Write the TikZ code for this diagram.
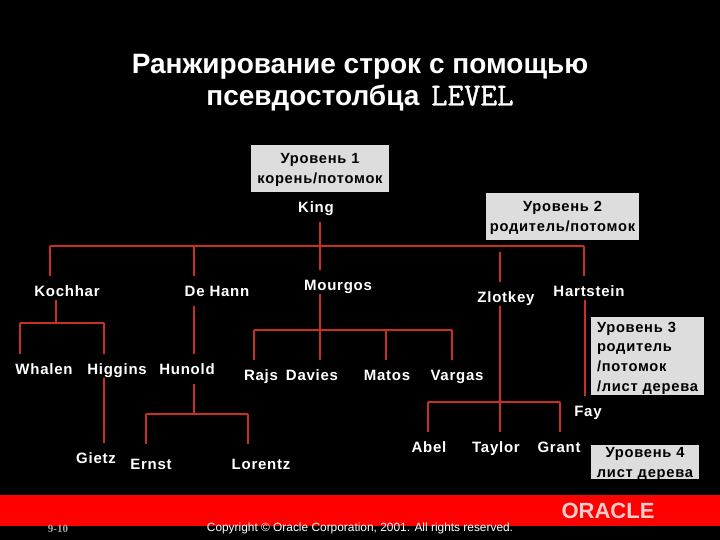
\documentclass[tikz,border=0pt]{standalone}
\usepackage{fontspec}
\setmainfont[LetterSpace=5]{Liberation Sans}
\newfontfamily\plainfont{Liberation Sans}
\newfontfamily\pagefont{Liberation Serif}
\newfontfamily\levelfont[FakeBold=1.2]{Latin Modern Mono}
\definecolor{slidered}{RGB}{255,0,0}
\definecolor{linkred}{RGB}{200,48,36}
\definecolor{notegray}{RGB}{221,221,221}
\tikzset{
  person/.style={text=white,font=\fontsize{15}{15}\bfseries\selectfont,text height=10pt,text depth=0pt,inner xsep=1pt,inner ysep=10pt},
  heading/.style={text=white,font=\plainfont\fontsize{28}{28}\bfseries\selectfont},
  note/.style={text=black,font=\fontsize{14.7}{19.7}\bfseries\selectfont,align=center,inner sep=0pt},
  link/.style={linkred,line width=2pt},
  late/.style={shorten <=-6pt},
  far/.style={shorten >=5pt}
}
\begin{document}
\begin{tikzpicture}[x=1pt,y=-1pt]
      \useasboundingbox (0,0) rectangle (720,540);
      \fill[black] (0,0) rectangle (720,540);
      \fill[slidered] (0,495) rectangle (720,526);
      \fill[notegray] (251,145) rectangle (389,192);
      \fill[notegray] (486,193) rectangle (639,240);
      \fill[notegray] (591,317) rectangle (704,395);
      \fill[notegray] (591,445) rectangle (699,479);
      \draw
        (360,67) node[heading] (title1){Ранжирование строк с помощью}
        (360,98) node[heading] (title2){псевдостолбца\hspace{4pt} {\levelfont\fontsize{32}{32}\selectfont LEVEL}}
        (320,170) node[note] (level1){Уровень 1\\корень/потомок}
        (562.5,218) node[note] (level2){Уровень 2\\родитель/потомок}
        (651.5,358) node[note,align=left,text width=109pt] (level3){Уровень 3\\родитель\\/потомок\\/лист дерева}
        (645,464) node[note] (level4){Уровень 4\\лист дерева}
        (316,207) node[person] (King){King}
        (67,291) node[person] (Kochhar){Kochhar}
        (217,291) node[person] (DeHann){De Hann}
        (338,285) node[person] (Mourgos){Mourgos}
        (506,297) node[person] (Zlotkey){Zlotkey}
        (589,291) node[person] (Hartstein){Hartstein}
        (44,369) node[person] (Whalen){Whalen}
        (117,369) node[person] (Higgins){Higgins}
        (187,369) node[person] (Hunold){Hunold}
        (261,375) node[person] (Rajs){Rajs}
        (312,375) node[person] (Davies){Davies}
        (387,375) node[person] (Matos){Matos}
        (457,375) node[person] (Vargas){Vargas}
        (588,411) node[person] (Fay){Fay}
        (96,458) node[person] (Gietz){Gietz}
        (151,464) node[person] (Ernst){Ernst}
        (261,464) node[person] (Lorentz){Lorentz}
        (429,447) node[person] (Abel){Abel}
        (496,447) node[person] (Taylor){Taylor}
        (559,447) node[person] (Grant){Grant}
        (608,511) node[text=white!80!red,font=\plainfont\fontsize{22}{22}\bfseries\selectfont] (logo){ORACLE}
        (360,528) node[text=white,font=\plainfont\fontsize{11.9}{11.9}\selectfont] (copyright){Copyright © Oracle Corporation, 2001. All rights reserved.}
        (58,529) node[text=white!65!black,font=\pagefont\fontsize{11}{11}\bfseries\selectfont] (page){9-10};
      \coordinate (busKing) at (320,246);
      \coordinate (busKochhar) at (56,323);
      \coordinate (busHunold) at (193.5,414);
      \coordinate (busMourgos) at (320,330);
      \coordinate (busZlotkey) at (500,402);
      \coordinate (colA) at (50,246);
      \coordinate (colB) at (193.5,246);
      \coordinate (colC) at (500,252);
      \coordinate (colD) at (584,246);
      \coordinate (colE) at (20,323);
      \coordinate (colF) at (104,323);
      \coordinate (colG) at (146,414);
      \coordinate (colH) at (248,414);
      \coordinate (colI) at (254,330);
      \coordinate (colJ) at (386,330);
      \coordinate (colK) at (452,330);
      \coordinate (colL) at (428,402);
      \coordinate (colM) at (560,402);
      \coordinate (colN) at (585,300);
      \begin{scope}[link]
        \draw (King.south -| busKing) to (Mourgos.north -| busKing);
        \draw (colA) to (colD);
        \draw (colA) to (colA |- Kochhar.north);
        \draw (colB) to (colB |- DeHann.north);
        \draw (colC) to (colC |- Zlotkey.north);
        \draw (colD) to (colD |- Hartstein.north);
        \draw[late] (Kochhar.south -| busKochhar) to (busKochhar);
        \draw (colE) to (colF);
        \draw (colE) to (colE |- Whalen.north);
        \draw (colF) to (colF |- Higgins.north);
        \draw[late] (Higgins.south -| colF) to (colF |- Gietz.north);
        \draw (colB |- DeHann.south) to (colB |- Hunold.north);
        \draw (Hunold.south -| busHunold) to (busHunold);
        \draw (colG) to (colH);
        \draw[far] (colG) to (colG |- Ernst.north);
        \draw[far] (colH) to (colH |- Lorentz.north);
        \draw[late] (Mourgos.south -| busMourgos) to (busMourgos |- Davies.north);
        \draw (colI) to (colK);
        \draw (colI) to (colI |- Rajs.north);
        \draw (colJ) to (colJ |- Matos.north);
        \draw (colK) to (colK |- Vargas.north);
        \draw[late] (Zlotkey.south -| busZlotkey) to (busZlotkey |- Taylor.north);
        \draw (colL) to (colM);
        \draw (colL) to (colL |- Abel.north);
        \draw (colM) to (colM |- Grant.north);
        \draw[late] (Hartstein.south -| colN) to (colN |- Fay.north);
      \end{scope}
    \end{tikzpicture}
\end{document}
